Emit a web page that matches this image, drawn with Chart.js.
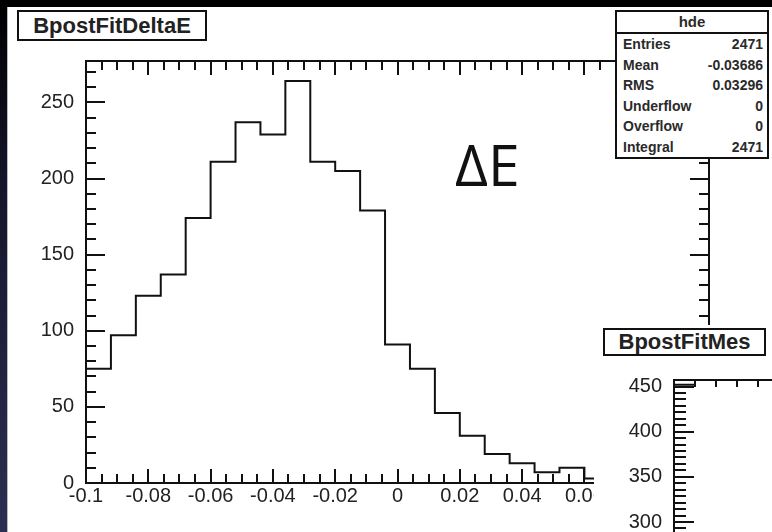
<!DOCTYPE html>
<html>
<head>
<meta charset="utf-8">
<script src="https://cdn.jsdelivr.net/npm/chart.js@4.4.1/dist/chart.umd.min.js"></script>
<style>
  html, body { margin: 0; padding: 0; }
  body { width: 772px; height: 532px; overflow: hidden; background: #000; position: relative;
         font-family: 'Liberation Sans', Arial, sans-serif; }
  #edge { position: absolute; left: 0; top: 0; width: 7px; height: 532px;
          background: linear-gradient(#000 0%, #15152c 35%, #2c2f50 100%); }
  #page { position: absolute; left: 7px; top: 7px; right: 0; bottom: 0; background: #fff;
          border-left: 1px solid #b8b8c0; }
  #main { position: absolute; left: 0; top: 0; }
  .title { position: absolute; box-sizing: border-box; border: 2px solid #111; background: #fff;
           font-weight: bold; font-size: 22px; color: #222; text-align: center; }
  #t1 { left: 17px; top: 10px; width: 190px; height: 31px; line-height: 27px; }
  #stats { position: absolute; left: 615px; top: 10px; width: 154px; height: 149px; box-sizing: border-box;
           border: 2px solid #111; background: #fff; display: flex; flex-direction: column; color: #2a2a2a; }
  #stats .hd { height: 20px; line-height: 20px; text-align: center; font-weight: bold; font-size: 15px;
               border-bottom: 2px solid #111; }
  #stats .row { flex: 1; display: flex; justify-content: space-between; align-items: center;
                padding: 0 4px 0 6px; font-weight: bold; font-size: 14px; }
  #pad2 { position: absolute; left: 594px; top: 325px; width: 178px; height: 207px; background: #fff; overflow: hidden; }
  #pad2 canvas { position: absolute; left: 0; top: 0; }
  #t2 { left: 603px; top: 328px; width: 163px; height: 28px; line-height: 24px; }
</style>
</head>
<body>
<div id="edge"></div>
<div id="page"></div>
<canvas id="main" width="772" height="532"></canvas>
<div id="t1" class="title">BpostFitDeltaE</div>
<div id="stats"><div class="hd">hde</div></div>
<div id="pad2"><canvas id="mes" width="600" height="600"></canvas></div>
<div id="t2" class="title">BpostFitMes</div>

<script>
// hde: BpostFitDeltaE histogram, bin width 0.008 (bins past 0.068 are hidden under the second pad)
const deBinLow = [-0.1, -0.092, -0.084, -0.076, -0.068, -0.06, -0.052, -0.044, -0.036, -0.028,
                  -0.02, -0.012, -0.004, 0.004, 0.012, 0.02, 0.028, 0.036, 0.044, 0.052, 0.06, 0.068];
const deCounts = [75, 97, 123, 137, 174, 211, 237, 229, 264, 211,
                  205, 179, 91, 75, 46, 31, 19, 13, 7, 10, 3, 3];
const deYMax = 277.2;

const statLabels = ['Entries', 'Mean', 'RMS', 'Underflow', 'Overflow', 'Integral'];
const statValues = ['2471', '-0.03686', '0.03296', '0', '0', '2471'];

// BpostFitMes: only the first bins peek out at the bottom right
const mesBinLow = [5.2, 5.205, 5.21];
const mesCounts = [452, 470, 470];
const mesYMax = 457.2;

const ink = '#111';
const labelFont = { family: 'Liberation Sans', size: 20 };

const statsBox = document.getElementById('stats');
statLabels.forEach((l, i) => {
    const row = document.createElement('div');
    row.className = 'row';
    row.innerHTML = `<span>${l}</span><span>${statValues[i]}</span>`;
    statsBox.appendChild(row);
});

// ROOT style frame: inward ticks on all four sides
const rootFrame = {
    id: 'rootFrame',
    afterDatasetsDraw(chart, args, o) {
        const { ctx, chartArea: a, scales: { x, y } } = chart;
        const isMajor = (v, step) => Math.abs(v / step - Math.round(v / step)) < 1e-6;
        ctx.save();
        ctx.strokeStyle = ink;
        ctx.lineWidth = 2;
        ctx.strokeRect(a.left, a.top, a.right - a.left, a.bottom - a.top);
        ctx.beginPath();
        const nx = Math.round((x.max - x.min) / o.xMinor);
        for (let i = 0; i <= nx; i++) {
            const v = x.min + i * o.xMinor;
            const px = Math.round(x.getPixelForValue(v));
            const len = isMajor(v - o.xOrigin, o.xMajor) ? o.xMajorLen : o.xMinorLen;
            ctx.moveTo(px, a.bottom); ctx.lineTo(px, a.bottom - len);
            ctx.moveTo(px, a.top); ctx.lineTo(px, a.top + len);
        }
        const ny = Math.floor((y.max - y.min) / o.yMinor + 1e-6);
        for (let i = 0; i <= ny; i++) {
            const v = y.min + i * o.yMinor;
            const py = Math.round(y.getPixelForValue(v));
            const len = isMajor(v, o.yMajor) ? o.yMajorLen : o.yMinorLen;
            ctx.moveTo(a.left, py); ctx.lineTo(a.left + len, py);
            ctx.moveTo(a.right, py); ctx.lineTo(a.right - len, py);
        }
        ctx.stroke();
        if (o.label) {
            ctx.fillStyle = ink;
            ctx.font = '57px "Open Sans"';
            ctx.fillText(o.label, o.labelX, o.labelY);
        }
        ctx.restore();
    }
};

function histConfig(binLow, counts, xMin, xMax, yMax, xStep, fixed, frame) {
    return {
        type: 'line',
        data: {
            datasets: [{
                data: binLow.map((b, i) => ({ x: b, y: counts[i] })),
                stepped: 'before',
                borderColor: ink,
                borderWidth: 2,
                pointRadius: 0,
                fill: false
            }]
        },
        options: {
            responsive: false,
            animation: false,
            devicePixelRatio: 1,
            layout: { padding: fixed.padding },
            plugins: { legend: { display: false }, tooltip: { enabled: false }, rootFrame: frame },
            scales: {
                x: {
                    type: 'linear', min: xMin, max: xMax,
                    grid: { display: false }, border: { display: false },
                    ticks: {
                        stepSize: xStep, autoSkip: false, maxRotation: 0, padding: -7,
                        color: '#222', font: labelFont,
                        callback: v => Number(v.toFixed(3)).toString()
                    },
                    afterFit: s => { s.height = fixed.xHeight; }
                },
                y: {
                    min: 0, max: yMax,
                    grid: { display: false }, border: { display: false },
                    ticks: { stepSize: 50, includeBounds: false, padding: 4, color: '#222', font: labelFont },
                    afterFit: s => { s.width = fixed.yWidth; }
                }
            }
        },
        plugins: [rootFrame]
    };
}

new Chart(document.getElementById('main'), histConfig(
    deBinLow, deCounts, -0.1, 0.1, deYMax, 0.02,
    { padding: { left: 0, top: 61, right: 63, bottom: 0 }, xHeight: 49, yWidth: 86 },
    { xOrigin: -0.1, xMajor: 0.02, xMinor: 0.005, xMajorLen: 14, xMinorLen: 9,
      yMajor: 50, yMinor: 10, yMajorLen: 19, yMinorLen: 10,
      label: 'ΔE', labelX: 455, labelY: 186 }
));

new Chart(document.getElementById('mes'), histConfig(
    mesBinLow, mesCounts, 5.2, 5.3, mesYMax, 0.02,
    { padding: { left: 0, top: 55, right: 100, bottom: 92 }, xHeight: 40, yWidth: 80 },
    { xOrigin: 5.2, xMajor: 0.05, xMinor: 0.005, xMajorLen: 7, xMinorLen: 7,
      yMajor: 50, yMinor: 50 / 7, yMajorLen: 20, yMinorLen: 12 }
));
</script>
</body>
</html>
